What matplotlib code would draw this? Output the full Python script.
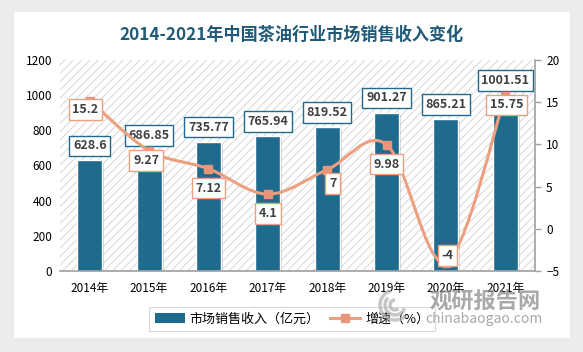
import matplotlib
matplotlib.use("Agg")
import matplotlib.pyplot as plt
from matplotlib.path import Path
from matplotlib.patches import PathPatch, Rectangle, Patch, Arc
from matplotlib.lines import Line2D
import matplotlib.patheffects as pe

plt.rcParams['font.family'] = ['Noto Sans CJK SC', 'DejaVu Sans']
plt.rcParams['hatch.color'] = '#d0d0d0'
plt.rcParams['hatch.linewidth'] = 0.6

# data
years = ['2014年', '2015年', '2016年', '2017年', '2018年', '2019年', '2020年', '2021年']
revenue = [628.6, 686.85, 735.77, 765.94, 819.52, 901.27, 865.21, 1001.51]
growth = [15.2, 9.27, 7.12, 4.1, 7, 9.98, -4, 15.75]
revenue_labels = ['628.6', '686.85', '735.77', '765.94', '819.52', '901.27', '865.21', '1001.51']
growth_labels = ['15.2', '9.27', '7.12', '4.1', '7', '9.98', '-4', '15.75']

bar_color = '#1f6b8e'
line_color = '#eda07f'
marker_color = '#e8957a'
text_color = '#404040'

# label offsets (points) for the growth labels
growth_offsets = [(-3, -6.5), (-2, -7), (0, -14), (0, -14), (4, -10), (0, -14), (1, 5), (1, -6.5)]

fig = plt.figure(figsize=(5.83, 3.52), dpi=100, facecolor='#ececec')
W, H = 583, 352

# white card
fig.patches.append(Rectangle((14 / W, 1 - 338 / H), (570 - 14) / W, (338 - 12) / H,
                             transform=fig.transFigure, facecolor='white', edgecolor='none', zorder=-5))

ax = fig.add_axes([60 / W, 1 - 271 / H, (535 - 60) / W, (271 - 60) / H])
ax2 = ax.twinx()

x = list(range(len(years)))
ax.patch.set_facecolor('white')
ax.patch.set_hatch('////')
ax.patch.set_edgecolor('#d0d0d0')
ax.patch.set_linewidth(0)

bars = ax.bar(x, revenue, width=0.42, color=bar_color, edgecolor='white', linewidth=1, zorder=2)
for b in bars:
    b.set_path_effects([pe.SimplePatchShadow(offset=(1.5, -1.5), shadow_rgbFace='#808080', alpha=0.35),
                        pe.Normal()])

ax.set_xlim(-0.5, len(years) - 0.5)
ax.set_ylim(0, 1200)
ax.set_yticks(range(0, 1201, 200))
ax.set_xticks(x)
ax.set_xticklabels(years)
ax.tick_params(axis='x', length=0, labelsize=8.5, colors='black', pad=8)
ax.tick_params(axis='y', length=0, labelsize=8.5, colors='black', pad=5.5)
for s in ['top', 'left', 'right']:
    ax.spines[s].set_visible(False)
ax.spines['bottom'].set_color('#a0a0a0')
ax.spines['bottom'].set_linewidth(1.2)

for xi, v, lab in zip(x, revenue, revenue_labels):
    ax.annotate(lab, (xi, v), xytext=(0, 10.5), textcoords='offset points',
                ha='center', va='center', fontsize=9, color=text_color, fontweight='bold',
                bbox=dict(boxstyle='square,pad=0.3', fc='white', ec=bar_color, lw=1), zorder=5)

# smooth growth line (Catmull-Rom style bezier, like Excel's smoothed line)
pts = list(zip(x, growth))
verts = [pts[0]]
codes = [Path.MOVETO]
n = len(pts)
for i in range(n - 1):
    p0 = pts[i - 1] if i > 0 else pts[i]
    p1 = pts[i]
    p2 = pts[i + 1]
    p3 = pts[i + 2] if i + 2 < n else pts[i + 1]
    c1 = (p1[0] + (p2[0] - p0[0]) / 6, p1[1] + (p2[1] - p0[1]) / 6)
    c2 = (p2[0] - (p3[0] - p1[0]) / 6, p2[1] - (p3[1] - p1[1]) / 6)
    verts += [c1, c2, p2]
    codes += [Path.CURVE4] * 3
ax2.add_patch(PathPatch(Path(verts, codes), facecolor='none', edgecolor=line_color, lw=2.2, zorder=3))
ax2.plot(x, growth, linestyle='none', marker='s', markersize=6, color=marker_color, zorder=4)

ax2.set_ylim(-5, 20)
ax2.set_yticks(range(-5, 21, 5))
ax2.tick_params(axis='y', length=4, width=1, color='#a0a0a0', labelsize=8.5, labelcolor='black', pad=4)
for s in ['top', 'left', 'bottom']:
    ax2.spines[s].set_visible(False)
ax2.spines['right'].set_color('#a0a0a0')
ax2.spines['right'].set_linewidth(1.2)

for xi, v, lab, off in zip(x, growth, growth_labels, growth_offsets):
    ax2.annotate(lab, (xi, v), xytext=off, textcoords='offset points',
                 ha='center', va='center', fontsize=9, color=text_color, fontweight='bold',
                 bbox=dict(boxstyle='square,pad=0.3', fc='white', ec=line_color, lw=1), zorder=6)

fig.text(292 / W, 1 - 35 / H, '2014-2021年中国茶油行业市场销售收入变化', ha='center', va='center',
         fontsize=12.3, fontweight='bold', color='#1f5a78')

# watermark
fig.text(485 / W, 1 - 302 / H, '观研报告网', ha='center', va='center', fontsize=16,
         fontweight='bold', color='#8c8c8c', alpha=0.75, zorder=10)
fig.text(484 / W, 1 - 319 / H, 'chinabaogao.com', ha='center', va='center', fontsize=10,
         color='#8c8c8c', alpha=0.75, zorder=10)
for r, a1, a2 in [(30, 100, 300), (20, 120, 330), (10, 90, 300)]:
    fig.patches.append(Arc((395 / W, 1 - 305 / H), r / W, r / H, theta1=a1, theta2=a2,
                           transform=fig.transFigure, color='#b0b0b0', lw=2.5, alpha=0.7, zorder=9))

handles = [Patch(facecolor=bar_color, edgecolor='none'),
           Line2D([0], [0], color=line_color, lw=2.2, marker='s', markersize=6,
                  markerfacecolor=marker_color, markeredgecolor=marker_color)]
leg = fig.legend(handles, ['市场销售收入（亿元）', '增速（%）'], ncol=2, loc='center',
                 bbox_to_anchor=(292 / W, 1 - 319 / H), fontsize=9.4, frameon=True,
                 fancybox=False, edgecolor='#d0d0d0', handlelength=2.3, handletextpad=0.4,
                 columnspacing=0.8, borderpad=0.4)
leg.get_frame().set_linewidth(0.8)

fig.savefig('out.png', dpi=100, facecolor=fig.get_facecolor())
